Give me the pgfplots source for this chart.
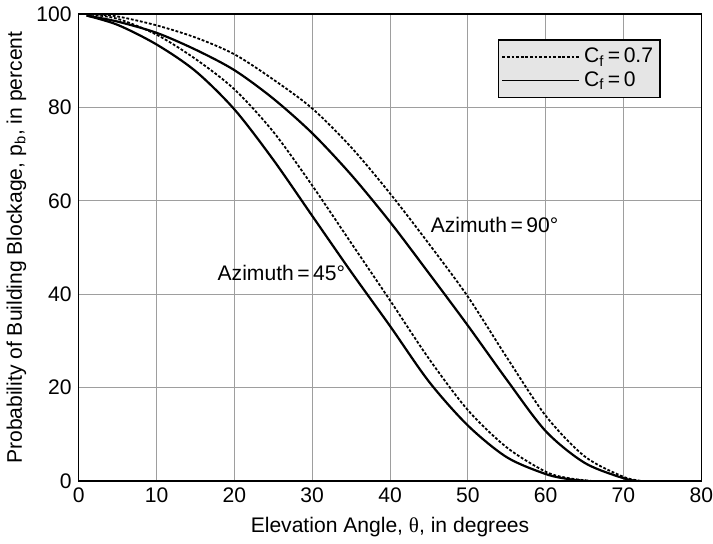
\documentclass[border=0pt]{standalone}
\usepackage{fontspec}
\setmainfont{Liberation Sans}
\newfontfamily\grk{Liberation Serif}
\usepackage{pgfplots}
\pgfplotsset{compat=1.18}
\usetikzlibrary{calc}

\begin{document}
\begin{tikzpicture}[font=\fontsize{10.5}{12.5}\selectfont]
\begin{axis}[
    scale only axis,
    width=310pt, height=232.5pt,
    xmin=0, xmax=80, ymin=0, ymax=100,
    xtick={0,10,...,80}, ytick={0,20,...,100},
    major tick length=0pt,
    xticklabel style={inner xsep=0pt},
    grid=major,
    grid style={color=black!38, line width=0.5pt},
    axis line style={line width=0.7pt},
    /pgf/number format/assume math mode=true,
    xlabel={Elevation Angle, {\grk θ}, in degrees},
    ylabel={Probability of Building Blockage, p\textsubscript{b}, in percent},
    xlabel style={at={(axis description cs:0.5,0)}, anchor=center, yshift=-23pt},
    ylabel style={at={(axis description cs:0,0.5)}, anchor=center, yshift=31pt},
    legend cell align=left,
    legend style={at={(axis cs:74.8,94.6)}, anchor=north east,
        fill=black!10, draw=black, line width=0.7pt,
        inner xsep=1.5pt, inner ysep=2pt, row sep=-1pt},
    legend image code/.code={\draw[#1, line width=0.6pt] (0cm,0cm) -- (1.35cm,0cm);},
]
% Cf = 0.7, azimuth 90
\addplot[black, line width=0.9pt, dash pattern=on 1.4pt off 0.9pt, smooth] coordinates {
(2,100) (5,99.5) (10,97.6) (15,95) (20,91.4) (25,86) (30,79.8) (35,71.5)
(40,61.6) (45,50.8) (50,39.5) (55,26.5) (60,14) (65,5.3) (70,0.9) (72.5,0)};
\addlegendentry{C\textsubscript{f}\,=\,0.7}
% Cf = 0, azimuth 90
\addplot[black, line width=1.1pt, smooth] coordinates {
(1,99.7) (5,98.4) (10,96) (15,92.4) (20,88) (25,81.9) (30,74.5) (35,65.6)
(40,55.5) (45,44.5) (50,33.3) (55,21.7) (60,10.7) (65,3.9) (70,0.6) (72,0)};
\addlegendentry{C\textsubscript{f}\,=\,0}
% Cf = 0.7, azimuth 45
\addplot[black, line width=0.9pt, dash pattern=on 1.4pt off 0.9pt, smooth, forget plot] coordinates {
(1,100) (5,99) (10,95.6) (15,90.4) (20,83.9) (25,74.8) (30,63.3) (35,51)
(40,38.7) (45,26.2) (50,15.2) (55,7.2) (60,2) (63,0.6) (66,0)};
% Cf = 0, azimuth 45
\addplot[black, line width=1.1pt, smooth, forget plot] coordinates {
(1,99.7) (5,97.7) (10,93.5) (15,87.8) (20,79.6) (25,68.8) (30,56.8) (35,44.8)
(40,33.2) (45,21.3) (50,11.9) (55,5.1) (60,1.5) (63,0.4) (65.5,0)};
\node[anchor=west, inner sep=0pt] at (axis cs:45.2,54.8) {Azimuth\,=\,90°};
\node[anchor=west, inner sep=0pt] at (axis cs:17.8,44.5) {Azimuth\,=\,45°};
\path ($(rel axis cs:0,0)+(-40pt,-33.5pt)$) rectangle ($(rel axis cs:1,1)+(6.5pt,7.5pt)$);
\end{axis}
\end{tikzpicture}
\end{document}
